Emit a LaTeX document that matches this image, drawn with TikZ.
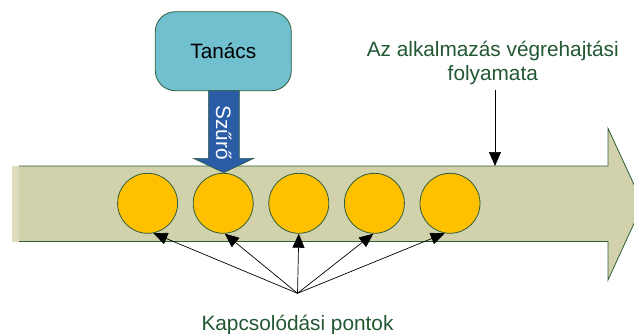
\documentclass[tikz,border=0pt]{standalone}
\usepackage{fontspec}
\setmainfont{Liberation Sans}
\usetikzlibrary{arrows.meta}
\definecolor{flowfill}{HTML}{D1D2AC}
\definecolor{flowedge}{HTML}{DDDDBD}
\definecolor{darkline}{HTML}{2F5D3A}
\definecolor{advicefill}{HTML}{70C0D0}
\definecolor{filterblue}{HTML}{2B5DA6}
\definecolor{pointfill}{HTML}{FFC000}
\definecolor{labelgreen}{HTML}{215732}
\tikzset{
  bigtext/.style={font=\fontsize{20.8}{24.5}\selectfont, inner sep=0pt},
  joinpoint/.style={circle, draw=darkline, line width=0.8pt, fill=pointfill,
    minimum size=60pt, inner sep=0pt},
  advicebox/.style={rectangle, rounded corners=20pt, draw=darkline, line width=0.8pt,
    fill=advicefill, minimum width=136pt, minimum height=79pt, bigtext},
  pointer/.style={draw=black, line width=0.7pt, -{Triangle[length=14pt,width=12pt]}},
}
\begin{document}
\begin{tikzpicture}[x=1pt,y=-1pt]
\useasboundingbox (0,0) rectangle (634,334);
\clip (0,0) rectangle (634,334);

% execution flow arrow
\fill[flowfill] (12,166) -- (608,166) -- (608,128.3) -- (643,204)
  -- (608,280) -- (608,241.5) -- (12,241.5) -- cycle;
\fill[flowedge] (12,166) rectangle (19,241.5);
\draw[darkline, line width=0.8pt] (19,166) -- (608,166) -- (608,128.3) -- (643,204)
  -- (608,280) -- (608,241.5) -- (19,241.5);

% join points
\node[joinpoint] (c1) at (147.6,203.3) {};
\node[joinpoint] (c2) at (223.2,203.3) {};
\node[joinpoint] (c3) at (298.8,203.3) {};
\node[joinpoint] (c4) at (374.4,203.3) {};
\node[joinpoint] (c5) at (450.0,203.3) {};

% advice and its filter arrow
\node[advicebox] (advice) at (223.3,51.2) {Tanács};
\filldraw[fill=filterblue, draw=darkline, line width=0.6pt]
  (208.3,90.7) -- (239.3,90.7) -- (239.3,158.3) -- (254,158.3)
  -- (223.7,172.7) -- (193.3,158.3) -- (208.3,158.3) -- cycle;
\node[bigtext, text=white, rotate=-90] (filter) at (223.8,132.5) {Szűrő};

% flow label
\node[bigtext, text=labelgreen, align=center, anchor=north] (flowlabel) at (492.8,40.5)
  {Az alkalmazás végrehajtási\\folyamata};
\coordinate (flowfrom) at (495,90);
\coordinate (flowtop) at (495,166);
\draw[pointer] (flowfrom) -- (flowtop);

% join point label and pointers
\coordinate (hub) at (297.5,293.3);
\draw[pointer] (hub) -- (c1.-79);
\draw[pointer] (hub) -- (c2.-87);
\draw[pointer] (hub) -- (c3.-90);
\draw[pointer] (hub) -- (c4.-92);
\draw[pointer] (hub) -- (c5.-100);
\node[bigtext, text=labelgreen, anchor=base] (jplabel) at (297.5,330.7) {Kapcsolódási pontok};
\end{tikzpicture}
\end{document}
